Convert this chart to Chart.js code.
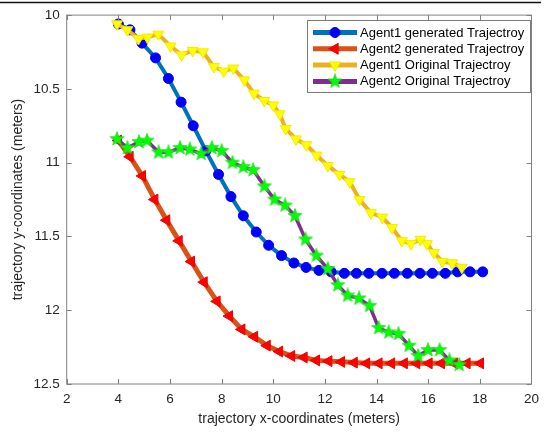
<!DOCTYPE html>
<html>
<head>
<meta charset="utf-8">
<script src="https://cdn.jsdelivr.net/npm/chart.js@4.4.1/dist/chart.umd.min.js"></script>
<style>
  html, body { margin: 0; padding: 0; background: #fff; }
  #wrap { width: 546px; height: 435px; position: relative; }
</style>
</head>
<body>
<div id="wrap"><canvas id="chart"></canvas></div>
<script>
// values
const blueX = [4.0, 4.45, 4.92, 5.44, 5.94, 6.43, 6.90, 7.39, 7.88, 8.36, 8.84, 9.34, 9.82, 10.32, 10.80, 11.27, 11.77, 12.24, 12.75, 13.22, 13.70, 14.21, 14.69, 15.19, 15.68, 16.16, 16.66, 17.14, 17.62, 18.11];
const blueY = [10.06, 10.10, 10.19, 10.29, 10.43, 10.59, 10.75, 10.92, 11.08, 11.23, 11.36, 11.47, 11.56, 11.63, 11.68, 11.71, 11.73, 11.74, 11.75, 11.75, 11.75, 11.75, 11.75, 11.75, 11.75, 11.75, 11.75, 11.74, 11.74, 11.74];

const redX = [4.0, 4.45, 4.93, 5.41, 5.87, 6.35, 6.83, 7.32, 7.82, 8.30, 8.78, 9.27, 9.76, 10.24, 10.71, 11.19, 11.67, 12.15, 12.64, 13.13, 13.61, 14.09, 14.58, 15.07, 15.55, 16.03, 16.51, 17.01, 17.50, 18.02];
const redY = [10.85, 10.96, 11.09, 11.25, 11.39, 11.53, 11.67, 11.81, 11.94, 12.04, 12.13, 12.18, 12.24, 12.28, 12.31, 12.32, 12.34, 12.345, 12.35, 12.355, 12.36, 12.36, 12.36, 12.36, 12.36, 12.36, 12.36, 12.36, 12.36, 12.36];

const yellowX = [3.95, 4.35, 4.78, 5.12, 5.55, 6.02, 6.45, 6.88, 7.28, 7.70, 8.08, 8.45, 8.88, 9.25, 9.65, 10.0, 10.25, 10.48, 10.88, 11.28, 11.68, 12.11, 12.56, 12.96, 13.34, 13.78, 14.22, 14.60, 14.98, 15.33, 15.70, 15.95, 16.22, 16.55, 16.93, 17.30];
const yellowY = [10.06, 10.10, 10.16, 10.15, 10.13, 10.21, 10.27, 10.24, 10.25, 10.35, 10.38, 10.36, 10.44, 10.53, 10.58, 10.61, 10.67, 10.77, 10.84, 10.88, 10.95, 11.02, 11.08, 11.13, 11.25, 11.34, 11.37, 11.44, 11.53, 11.55, 11.52, 11.55, 11.61, 11.67, 11.68, 11.71];

const greenX = [3.95, 4.35, 4.80, 5.11, 5.56, 5.94, 6.39, 6.77, 7.21, 7.62, 8.00, 8.42, 8.84, 9.22, 9.66, 10.05, 10.46, 10.84, 11.25, 11.67, 12.11, 12.50, 12.88, 13.32, 13.73, 14.08, 14.47, 14.85, 15.26, 15.61, 15.99, 16.44, 16.82, 17.20];
const greenY = [10.84, 10.90, 10.86, 10.85, 10.93, 10.93, 10.90, 10.91, 10.94, 10.90, 10.92, 11.00, 11.03, 11.05, 11.16, 11.25, 11.29, 11.36, 11.52, 11.63, 11.72, 11.83, 11.90, 11.92, 11.97, 12.12, 12.15, 12.16, 12.24, 12.31, 12.27, 12.27, 12.34, 12.37];

const seriesNames = ['Agent1 generated Trajectroy', 'Agent2 generated Trajectroy', 'Agent1 Original Trajectroy', 'Agent2 Original Trajectroy'];
const xTicks = [2, 4, 6, 8, 10, 12, 14, 16, 18, 20];
const yTicks = [10, 10.5, 11, 11.5, 12, 12.5];

const toPoints = (xs, ys) => xs.map((x, i) => ({ x: x, y: ys[i] }));

// filled pentagram marker
function makeStar(size, color) {
  const c = document.createElement('canvas');
  c.width = size; c.height = size;
  const g = c.getContext('2d');
  const cx = size / 2, cy = size / 2, ro = size / 2 - 0.5, ri = ro * 0.42;
  g.beginPath();
  for (let i = 0; i < 10; i++) {
    const r = i % 2 === 0 ? ro : ri;
    const a = -Math.PI / 2 + i * Math.PI / 5;
    g.lineTo(cx + r * Math.cos(a), cy + r * Math.sin(a));
  }
  g.closePath();
  g.fillStyle = color;
  g.fill();
  g.strokeStyle = '#22cc22';
  g.lineWidth = 0.6;
  g.stroke();
  return c;
}
const star = makeStar(16, '#00ff00');

const textColor = '#262626';
const fontName = '"Liberation Sans", Arial, sans-serif';

const boxPlugin = {
  id: 'box',
  afterDatasetsDraw: chart => {
    const ctx = chart.ctx;
    const a = chart.chartArea;
    const xs = chart.scales['x'];
    const ys = chart.scales['y'];
    ctx.save();
    // frame line at the very top of the figure
    ctx.strokeStyle = '#111';
    ctx.lineWidth = 1.5;
    ctx.beginPath();
    ctx.moveTo(0, 2.5);
    ctx.lineTo(541, 2.5);
    ctx.stroke();
    // axes box
    ctx.strokeStyle = '#808080';
    ctx.lineWidth = 1;
    ctx.strokeRect(a.left, a.top, a.right - a.left, a.bottom - a.top);
    // inward ticks
    ctx.beginPath();
    xTicks.forEach(v => {
      const px = Math.round(xs.getPixelForValue(v)) + 0.5;
      ctx.moveTo(px, a.bottom); ctx.lineTo(px, a.bottom - 5);
      ctx.moveTo(px, a.top); ctx.lineTo(px, a.top + 5);
    });
    yTicks.forEach(v => {
      const py = Math.round(ys.getPixelForValue(v)) + 0.5;
      ctx.moveTo(a.left, py); ctx.lineTo(a.left + 5, py);
      ctx.moveTo(a.right, py); ctx.lineTo(a.right - 5, py);
    });
    ctx.stroke();

    // legend
    const lx = 307.5, ly = 20.5, lw = 223, lh = 72;
    ctx.fillStyle = '#fff';
    ctx.fillRect(lx, ly, lw, lh);
    ctx.strokeStyle = '#7a7a7a';
    ctx.strokeRect(lx, ly, lw, lh);
    ctx.font = '13px ' + fontName;
    ctx.textBaseline = 'middle';
    chart.data.datasets.forEach((ds, i) => {
      const y = 32.5 + i * 16.3;
      ctx.strokeStyle = ds.borderColor;
      ctx.lineWidth = 5;
      ctx.beginPath();
      ctx.moveTo(313, y);
      ctx.lineTo(357, y);
      ctx.stroke();
      ctx.fillStyle = ds.pointBackgroundColor;
      ctx.strokeStyle = ds.pointBorderColor;
      ctx.lineWidth = 1;
      Chart.helpers.drawPoint(ctx, {
        pointStyle: ds.pointStyle,
        rotation: ds.pointRotation || 0,
        radius: ds.pointRadius,
        borderWidth: 1
      }, 335, y);
      ctx.fillStyle = '#000';
      ctx.fillText(ds.label, 360, y + 0.5);
    });
    ctx.restore();
  }
};

new Chart(document.getElementById('chart'), {
  type: 'scatter',
  plugins: [boxPlugin],
  data: {
    datasets: [{
      label: seriesNames[0],
      data: toPoints(blueX, blueY),
      showLine: true,
      order: 4,
      borderColor: '#0072BD',
      borderWidth: 4,
      pointStyle: 'circle',
      pointRadius: 5,
      pointBackgroundColor: '#0000ff',
      pointBorderColor: '#0000ee',
      pointBorderWidth: 1
    }, {
      label: seriesNames[1],
      data: toPoints(redX, redY),
      showLine: true,
      order: 3,
      borderColor: '#D95319',
      borderWidth: 5,
      pointStyle: 'triangle',
      pointRotation: -90,
      pointRadius: 6.3,
      pointBackgroundColor: '#ff0000',
      pointBorderColor: '#ee0000',
      pointBorderWidth: 1
    }, {
      label: seriesNames[2],
      data: toPoints(yellowX, yellowY),
      showLine: true,
      order: 2,
      borderColor: '#EDB120',
      borderWidth: 4,
      pointStyle: 'triangle',
      pointRotation: 180,
      pointRadius: 6.3,
      pointBackgroundColor: '#ffff00',
      pointBorderColor: '#f2ea00',
      pointBorderWidth: 1
    }, {
      label: seriesNames[3],
      data: toPoints(greenX, greenY),
      showLine: true,
      order: 1,
      borderColor: '#7E2F8E',
      borderWidth: 3.5,
      pointStyle: star,
      pointRadius: 8,
      pointBackgroundColor: '#00ff00',
      pointBorderColor: '#00ff00',
      pointBorderWidth: 0
    }]
  },
  options: {
    responsive: true,
    maintainAspectRatio: false,
    animation: false,
    layout: { padding: { left: 0, right: 7.7, top: 9.6, bottom: 0 } },
    plugins: {
      legend: { display: false },
      tooltip: { enabled: false }
    },
    elements: { line: { tension: 0 } },
    scales: {
      x: {
        type: 'linear',
        min: 2,
        max: 20,
        grid: { display: false, drawTicks: false },
        border: { display: false },
        afterBuildTicks: scale => { scale.ticks = xTicks.map(v => ({ value: v })); },
        afterFit: scale => { scale.height = 51; },
        ticks: {
          color: textColor,
          padding: 7,
          maxRotation: 0,
          callback: value => String(value),
          font: { family: fontName, size: 13.5 }
        },
        title: {
          display: true,
          text: 'trajectory x-coordinates (meters)',
          color: textColor,
          padding: { top: 0, bottom: 7.6 },
          font: { family: fontName, size: 14 }
        }
      },
      y: {
        type: 'linear',
        reverse: true,
        min: 10,
        max: 12.5,
        grid: { display: false, drawTicks: false },
        border: { display: false },
        afterBuildTicks: scale => { scale.ticks = yTicks.map(v => ({ value: v })); },
        afterFit: scale => { scale.width = 66.7; },
        ticks: {
          color: textColor,
          padding: 7,
          callback: value => String(value),
          font: { family: fontName, size: 13.5 }
        },
        title: {
          display: true,
          text: 'trajectory y-coordinates (meters)',
          color: textColor,
          padding: { top: 9.6, bottom: 0 },
          font: { family: fontName, size: 14 }
        }
      }
    }
  }
});
</script>
</body>
</html>
